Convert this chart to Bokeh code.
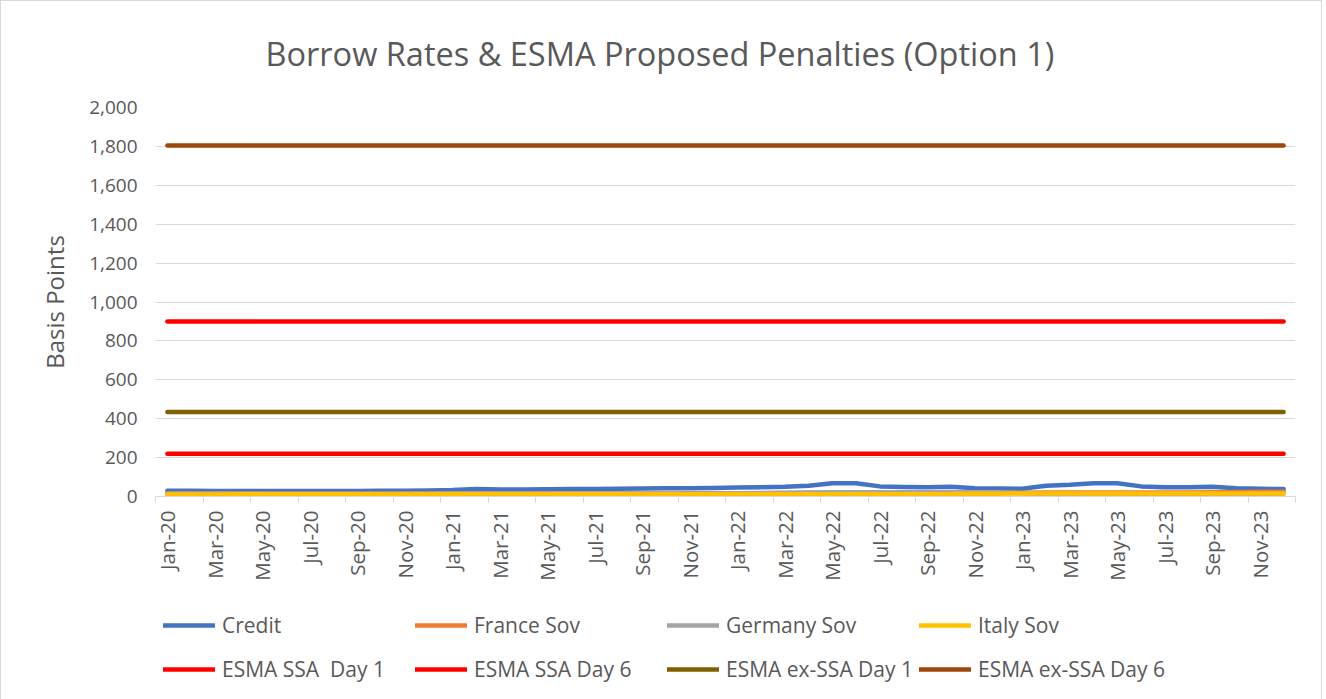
from bokeh.plotting import figure
from bokeh.layouts import column
from bokeh.models import (Range1d, FixedTicker, NumeralTickFormatter, Legend, LegendItem,
                          Title, ColumnDataSource)
from bokeh.embed import file_html
from bokeh.resources import INLINE
import math

months = []
for yr in ["20", "21", "22", "23"]:
    for m in ["Jan", "Feb", "Mar", "Apr", "May", "Jun", "Jul", "Aug", "Sep", "Oct", "Nov", "Dec"]:
        months.append(f"{m}-{yr}")

credit = [30, 29, 28, 28, 28, 28, 28, 28, 28, 29, 30, 31,
          33, 38, 36, 36, 37, 38, 39, 40, 41, 42, 43, 44,
          46, 48, 50, 55, 68, 68, 52, 49, 48, 50, 43, 41,
          40, 55, 60, 68, 68, 52, 48, 47, 50, 42, 40, 38]
france = [15, 15, 15, 15, 15, 14, 14, 14, 14, 14, 15, 15,
          15, 16, 16, 16, 16, 16, 16, 16, 16, 16, 17, 17,
          17, 17, 18, 18, 18, 18, 18, 18, 18, 19, 19, 19,
          19, 20, 20, 20, 20, 20, 21, 21, 22, 23, 24, 25]
germany = [14, 14, 14, 14, 14, 14, 14, 14, 14, 14, 14, 14,
           15, 15, 15, 15, 15, 15, 15, 15, 16, 16, 16, 16,
           17, 18, 19, 20, 22, 22, 22, 22, 22, 22, 21, 20,
           18, 12, 8, 6, 5, 6, 8, 10, 12, 13, 14, 15]
italy = [10, 10, 10, 11, 11, 11, 11, 11, 11, 11, 11, 11,
         11, 11, 11, 11, 11, 11, 11, 11, 11, 11, 11, 11,
         11, 11, 11, 11, 11, 11, 11, 11, 12, 13, 14, 14,
         15, 15, 15, 16, 16, 16, 16, 16, 16, 16, 16, 16]
esma_ssa_d1 = [220] * 48
esma_ssa_d6 = [900] * 48
esma_exssa_d1 = [435] * 48
esma_exssa_d6 = [1805] * 48

series_names = ["Credit", "France Sov", "Germany Sov", "Italy Sov",
                "ESMA SSA  Day 1", "ESMA SSA Day 6", "ESMA ex-SSA Day 1", "ESMA ex-SSA Day 6"]
series_values = [credit, france, germany, italy, esma_ssa_d1, esma_ssa_d6, esma_exssa_d1, esma_exssa_d6]
colors = ["#4472C4", "#ED7D31", "#A5A5A5", "#FFC000", "#FF0000", "#FF0000", "#7F6000", "#9E480E"]

xs = list(range(len(months)))
FONT = "Open Sans"
TXT = "#595959"
LW = 4.5

p = figure(frame_width=1140, frame_height=389, output_backend="svg", toolbar_location=None,
           x_range=Range1d(-0.5, len(months) - 0.5), y_range=Range1d(0, 2000),
           min_border_left=154, min_border_right=26, min_border_top=103, min_border_bottom=80)
p.outline_line_color = None
p.background_fill_color = "white"
p.border_fill_color = "white"

t = Title(text="Borrow Rates & ESMA Proposed Penalties (Option 1)", align="left",
          vertical_align="top",
          text_font=FONT, text_font_size="32.5px", text_color=TXT, text_font_style="normal",
          offset=110, standoff=59)
p.add_layout(t, "above")

for name, vals, col in zip(series_names, series_values, colors):
    src = ColumnDataSource(dict(x=xs, y=vals))
    p.line("x", "y", source=src, line_color=col, line_width=LW,
           line_cap="round", line_join="round")

# x axis
p.xaxis.ticker = FixedTicker(ticks=list(range(0, len(months), 2)),
                             minor_ticks=[i - 0.5 for i in range(0, len(months) + 1, 2)])
p.xaxis.major_label_overrides = {i: months[i] for i in range(len(months))}
p.xaxis.major_label_orientation = math.pi / 2
p.xaxis.major_label_text_font = FONT
p.xaxis.major_label_text_font_size = "20.5px"
p.xaxis.major_label_text_color = TXT
p.xaxis.axis_line_color = "#d9d9d9"
p.xaxis.axis_line_width = 1
p.xaxis.major_tick_line_color = None
p.xaxis.major_tick_out = 0
p.xaxis.major_tick_in = 0
p.xaxis.minor_tick_line_color = "#d9d9d9"
p.xaxis.minor_tick_out = 6
p.xaxis.minor_tick_in = 0
p.xaxis.major_label_standoff = 8
p.xgrid.grid_line_color = None

# y axis
p.yaxis.ticker = FixedTicker(ticks=list(range(0, 2001, 200)))
p.yaxis.formatter = NumeralTickFormatter(format="0,0")
p.yaxis.major_label_text_font = FONT
p.yaxis.major_label_text_font_size = "19px"
p.yaxis.major_label_text_color = TXT
p.yaxis.axis_line_color = None
p.yaxis.major_tick_line_color = None
p.yaxis.major_tick_out = 0
p.yaxis.major_tick_in = 0
p.yaxis.minor_tick_line_color = None
p.yaxis.major_label_standoff = 18
p.yaxis.axis_label = "Basis Points"
p.yaxis.axis_label_text_font = FONT
p.yaxis.axis_label_text_font_size = "24px"
p.yaxis.axis_label_text_font_style = "normal"
p.yaxis.axis_label_text_color = TXT
p.yaxis.axis_label_standoff = 15
p.ygrid.grid_line_color = "#d9d9d9"
p.ygrid.grid_line_width = 1

# legend strip (separate figure directly below the chart)
LEG_H = 123
p2 = figure(width=1320, height=LEG_H, output_backend="svg", toolbar_location=None,
            x_axis_type=None, y_axis_type=None, x_range=Range1d(0, 1), y_range=Range1d(0, 1),
            min_border_left=0, min_border_right=0, min_border_top=0, min_border_bottom=0)
p2.outline_line_color = None
p2.xgrid.grid_line_color = None
p2.ygrid.grid_line_color = None
p2.border_fill_color = "white"
items = []
for name, col in zip(series_names, colors):
    # keys only: drawn outside the strip's visible range, used for the legend swatches
    r = p2.line(x=[-5, -4], y=[-5, -5], line_color=col, line_width=LW, line_cap="round")
    items.append(LegendItem(label=name, renderers=[r]))

common = dict(orientation="horizontal",
              glyph_width=52, glyph_height=44, label_height=44, label_width=193,
              label_standoff=7, spacing=0, padding=0, margin=0,
              label_text_font=FONT, label_text_font_size="21px", label_text_color=TXT,
              border_line_color=None, background_fill_alpha=0)
leg1 = Legend(items=items[:4], location=(8, 15 + 44), **common)
leg2 = Legend(items=items[4:], location=(8, 15), **common)
p2.add_layout(leg1, "center")
p2.add_layout(leg2, "center")

layout = column(p, p2, spacing=0, styles={"border": "1px solid #d9d9d9"})

open("out.html", "w").write(file_html(layout, INLINE))
